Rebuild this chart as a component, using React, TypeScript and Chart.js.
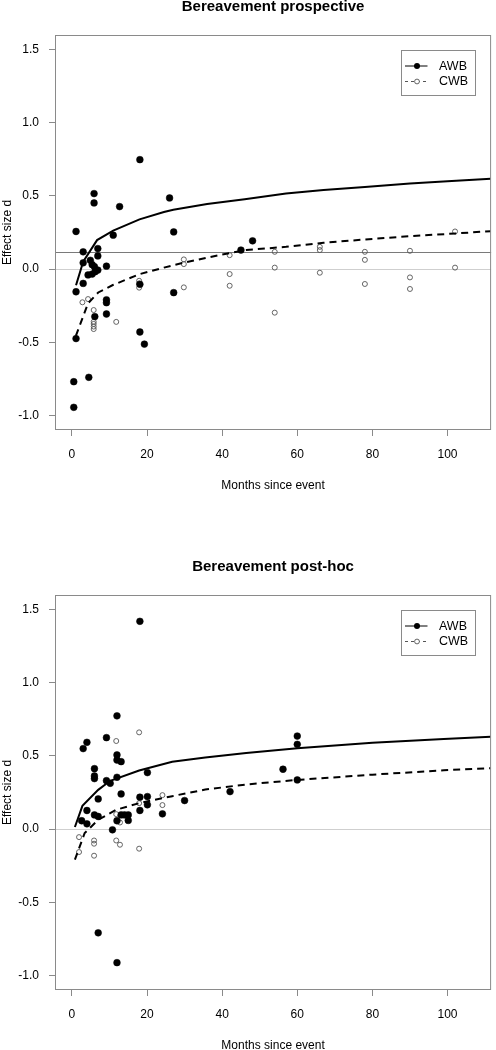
import React, { useEffect, useRef } from "react";
import { Chart, registerables } from "chart.js";

Chart.register(...registerables);

const FONT = '"Liberation Sans", Arial, Helvetica, sans-serif';

// Shared axes
const X_TICKS = [0, 20, 40, 60, 80, 100];
const Y_TICKS = [-1, -0.5, 0, 0.5, 1, 1.5];
const X_MIN = -4.5;
const X_MAX = 111.6;
const Y_MIN = -1.1;
const Y_MAX = 1.6;
const X_TITLE = "Months since event";
const Y_TITLE = "Effect size d";
const SERIES_NAMES = ["AWB", "CWB"];

// Panel 1: Bereavement prospective
const P1_TITLE = "Bereavement prospective";
const P1_REF = [0.12];
const P1_AWB = [
  [0.5, -0.77], [0.5, -0.945], [1.1, 0.257], [1.1, -0.155], [1.1, -0.475],
  [3, 0.118], [3, 0.043], [3, -0.098], [4.3, -0.04], [4.5, -0.74],
  [4.9, 0.06], [5.4, 0.03], [5.4, -0.034], [5.9, 0.516], [5.9, 0.452],
  [6, 0.016], [6.1, -0.325], [6.2, -0.018], [6.9, 0.14], [6.9, 0.09],
  [6.9, -0.007], [9.2, 0.02], [9.2, -0.21], [9.2, -0.23], [9.2, -0.307],
  [11, 0.232], [12.7, 0.427], [18.1, 0.748], [18.1, -0.104], [18.1, -0.43],
  [19.3, -0.513], [26, 0.486], [27.1, 0.254], [27.1, -0.161], [45, 0.13],
  [48.1, 0.193],
];
const P1_CWB = [
  [2.8, -0.227], [4.3, -0.205], [5.8, -0.28], [5.8, -0.36], [5.8, -0.375],
  [5.8, -0.393], [5.8, -0.41], [11.8, -0.361], [17.9, -0.08], [17.9, -0.098],
  [17.9, -0.127], [29.8, 0.066], [29.8, 0.034], [29.8, -0.125], [42, 0.095],
  [42, -0.034], [42, -0.114], [54, 0.118], [54, 0.01], [54, -0.298],
  [66, 0.152], [66, 0.13], [66, -0.025], [78, 0.118], [78, 0.063],
  [78, -0.102], [90, 0.125], [90, -0.057], [90, -0.136], [102, 0.257],
  [102, 0.01],
];
const P1_AWB_FIT = [
  [1.1, -0.11], [3, 0.05], [6.7, 0.198], [11, 0.263], [18, 0.34], [24.5, 0.39],
  [27, 0.405], [36, 0.445], [46, 0.477], [57, 0.516], [67, 0.54], [78, 0.561],
  [90, 0.585], [100, 0.6], [111.5, 0.618],
];
const P1_CWB_FIT = [
  [1.05, -0.457], [4.3, -0.234], [7, -0.16], [10.9, -0.109], [18, -0.035],
  [24.5, 0.01], [30, 0.045], [40, 0.1], [46.4, 0.13], [57, 0.152], [67, 0.18],
  [78, 0.202], [90, 0.225], [100, 0.24], [111.5, 0.259],
];

// Panel 2: Bereavement post-hoc
const P2_TITLE = "Bereavement post-hoc";
const P2_REF: number[] = [];
const P2_AWB = [
  [18.1, 1.42], [12, 0.774], [9.2, 0.625], [4, 0.593], [3, 0.55],
  [12, 0.507], [12, 0.472], [13.1, 0.461], [6, 0.413], [6, 0.363],
  [6, 0.345], [12, 0.354], [20.1, 0.386], [9.2, 0.331], [10.2, 0.313],
  [13.1, 0.24], [7, 0.206], [18.1, 0.218], [20.1, 0.222], [20.1, 0.166],
  [18.1, 0.127], [24.1, 0.104], [30, 0.195], [42.1, 0.256], [4, 0.127],
  [6, 0.097], [7, 0.086], [2.6, 0.057], [4, 0.036], [12, 0.057],
  [13.1, 0.097], [14, 0.097], [15, 0.097], [15, 0.059], [10.8, -0.005],
  [7, -0.709], [12, -0.913], [60, 0.636], [60, 0.579], [56.2, 0.409],
  [60, 0.336],
];
const P2_CWB = [
  [17.9, 0.661], [11.8, 0.602], [24.1, 0.232], [24.1, 0.164], [17.9, 0.177],
  [11.8, 0.102], [12.8, 0.045], [1.9, -0.055], [1.9, -0.157], [5.9, -0.078],
  [5.9, -0.1], [5.9, -0.182], [11.8, -0.078], [12.8, -0.107], [17.9, -0.134],
];
const P2_AWB_FIT = [
  [0.8, 0.014], [2.8, 0.159], [7, 0.268], [10.2, 0.33], [17.9, 0.4],
  [26.7, 0.46], [35.5, 0.49], [46.4, 0.52], [60, 0.552], [80, 0.59],
  [99, 0.615], [111.5, 0.631],
];
const P2_CWB_FIT = [
  [0.8, -0.209], [3.4, -0.027], [7, 0.063], [11.8, 0.132], [17.9, 0.177],
  [26.7, 0.225], [35.5, 0.27], [46.4, 0.305], [60, 0.336], [80, 0.372],
  [99, 0.402], [111.5, 0.416],
];

const W = 496;
const H = 560;

const toXY = (arr: number[][]) => arr.map(([x, y]) => ({ x, y }));

const decorPlugin = {
  id: "decor",
  beforeDatasetsDraw(chart: any, _args: any, opts: any) {
    const { ctx, chartArea: a, scales } = chart;
    const y = scales.y;
    ctx.save();
    ctx.lineWidth = 1;
    let py = Math.round(y.getPixelForValue(0)) + 0.5;
    ctx.strokeStyle = "#cfcfcf";
    ctx.beginPath();
    ctx.moveTo(a.left, py);
    ctx.lineTo(a.right, py);
    ctx.stroke();
    for (const v of opts.refLines || []) {
      py = Math.round(y.getPixelForValue(v)) + 0.5;
      ctx.strokeStyle = "#7a7a7a";
      ctx.beginPath();
      ctx.moveTo(a.left, py);
      ctx.lineTo(a.right, py);
      ctx.stroke();
    }
    ctx.restore();
  },
  afterDraw(chart: any) {
    const { ctx, chartArea: a } = chart;
    ctx.save();
    ctx.strokeStyle = "#8a8a8a";
    ctx.lineWidth = 1;
    ctx.strokeRect(a.left + 0.5, a.top + 0.5, a.right - a.left - 1, a.bottom - a.top - 1);
    const bw = 74;
    const bh = 45;
    const bx = Math.round(a.right - 16.3 - bw) + 0.5;
    const by = Math.round(a.top + 15) + 0.5;
    ctx.fillStyle = "#ffffff";
    ctx.fillRect(bx, by, bw, bh);
    ctx.strokeStyle = "#8a8a8a";
    ctx.strokeRect(bx, by, bw, bh);
    const rows = [by + 15.5, by + 31];
    const lx0 = bx + 3.5;
    const lx1 = bx + 26;
    const mx = bx + 15.5;
    ctx.strokeStyle = "#000";
    ctx.lineWidth = 1;
    ctx.setLineDash([]);
    ctx.beginPath();
    ctx.moveTo(lx0, rows[0]);
    ctx.lineTo(lx1, rows[0]);
    ctx.stroke();
    ctx.fillStyle = "#000";
    ctx.beginPath();
    ctx.arc(mx, rows[0], 3, 0, Math.PI * 2);
    ctx.fill();
    ctx.setLineDash([3, 3]);
    ctx.strokeStyle = "#555";
    ctx.beginPath();
    ctx.moveTo(lx0, rows[1]);
    ctx.lineTo(lx1, rows[1]);
    ctx.stroke();
    ctx.setLineDash([]);
    ctx.fillStyle = "#fff";
    ctx.strokeStyle = "#555";
    ctx.lineWidth = 0.9;
    ctx.beginPath();
    ctx.arc(mx, rows[1], 2.4, 0, Math.PI * 2);
    ctx.fill();
    ctx.stroke();
    ctx.fillStyle = "#000";
    ctx.font = `12.5px ${FONT}`;
    ctx.textBaseline = "middle";
    ctx.textAlign = "left";
    ctx.fillText(SERIES_NAMES[0], bx + 37.5, rows[0] + 0.5);
    ctx.fillText(SERIES_NAMES[1], bx + 37.5, rows[1] + 0.5);
    ctx.restore();
  },
};

function buildConfig(title: string, awb: number[][], cwb: number[][], awbFit: number[][], cwbFit: number[][], refLines: number[]): any {
  return {
    type: "scatter",
    data: {
      datasets: [
        {
          label: SERIES_NAMES[0] + " fit",
          data: toXY(awbFit),
          showLine: true,
          borderColor: "#000",
          borderWidth: 2,
          pointRadius: 0,
          tension: 0,
          fill: false,
          order: 0,
        },
        {
          label: SERIES_NAMES[1] + " fit",
          data: toXY(cwbFit),
          showLine: true,
          borderColor: "#000",
          borderWidth: 2,
          borderDash: [7, 5],
          pointRadius: 0,
          tension: 0,
          fill: false,
          order: 1,
        },
        {
          label: SERIES_NAMES[0],
          data: toXY(awb),
          showLine: false,
          pointRadius: 3.4,
          pointBackgroundColor: "#000",
          pointBorderColor: "#000",
          pointBorderWidth: 0.5,
          order: 2,
        },
        {
          label: SERIES_NAMES[1],
          data: toXY(cwb),
          showLine: false,
          pointRadius: 2.5,
          pointBackgroundColor: "rgba(0,0,0,0)",
          pointBorderColor: "#555",
          pointBorderWidth: 0.9,
          order: 3,
        },
      ],
    },
    options: {
      responsive: false,
      animation: false,
      devicePixelRatio: 1,
      events: [],
      layout: { padding: { top: 0, right: 1, bottom: 0, left: 0 } },
      plugins: {
        legend: { display: false },
        tooltip: { enabled: false },
        title: {
          display: true,
          text: title,
          fullSize: false,
          color: "#000",
          font: { family: FONT, size: 15, weight: "bold", lineHeight: 1 },
          padding: { top: -0.5, bottom: 20.5 },
        },
        decor: { refLines },
      },
      scales: {
        x: {
          type: "linear",
          min: X_MIN,
          max: X_MAX,
          afterBuildTicks: (s: any) => {
            s.ticks = X_TICKS.map((v) => ({ value: v }));
          },
          afterFit: (s: any) => {
            s.height = 130;
          },
          grid: { drawOnChartArea: false, drawTicks: true, tickLength: 6, color: "#8a8a8a", lineWidth: 1 },
          border: { display: false },
          ticks: {
            padding: 11,
            color: "#000",
            font: { family: FONT, size: 12 },
            maxRotation: 0,
            autoSkip: false,
            callback: (v: any) => String(v),
          },
          title: {
            display: true,
            text: X_TITLE,
            color: "#000",
            font: { family: FONT, size: 12 },
            padding: { top: 0, bottom: 67 },
          },
        },
        y: {
          type: "linear",
          min: Y_MIN,
          max: Y_MAX,
          afterBuildTicks: (s: any) => {
            s.ticks = Y_TICKS.map((v) => ({ value: v }));
          },
          afterFit: (s: any) => {
            s.width = 55;
          },
          grid: { drawOnChartArea: false, drawTicks: true, tickLength: 6, color: "#8a8a8a", lineWidth: 1 },
          border: { display: false },
          ticks: {
            padding: 10,
            color: "#000",
            font: { family: FONT, size: 12 },
            autoSkip: false,
            callback: (v: any) => Number(v).toFixed(1),
          },
          title: {
            display: true,
            text: Y_TITLE,
            color: "#000",
            font: { family: FONT, size: 12 },
            padding: { top: 0, bottom: 0 },
          },
        },
      },
    },
    plugins: [decorPlugin],
  };
}

function Panel(props: { title: string; awb: number[][]; cwb: number[][]; awbFit: number[][]; cwbFit: number[][]; refLines: number[] }) {
  const ref = useRef<HTMLCanvasElement | null>(null);
  useEffect(() => {
    if (!ref.current) return;
    const chart = new Chart(
      ref.current,
      buildConfig(props.title, props.awb, props.cwb, props.awbFit, props.cwbFit, props.refLines)
    );
    return () => chart.destroy();
  }, []);
  return (
    <div style={{ width: W, height: H, position: "relative" }}>
      <canvas ref={ref} width={W} height={H} style={{ display: "block", width: W, height: H }} />
    </div>
  );
}

export default function App() {
  return (
    <div
      style={{
        position: "absolute",
        left: 0,
        top: 0,
        width: W,
        height: 1050,
        overflow: "hidden",
        background: "#fff",
      }}
    >
      <Panel title={P1_TITLE} awb={P1_AWB} cwb={P1_CWB} awbFit={P1_AWB_FIT} cwbFit={P1_CWB_FIT} refLines={P1_REF} />
      <Panel title={P2_TITLE} awb={P2_AWB} cwb={P2_CWB} awbFit={P2_AWB_FIT} cwbFit={P2_CWB_FIT} refLines={P2_REF} />
    </div>
  );
}
